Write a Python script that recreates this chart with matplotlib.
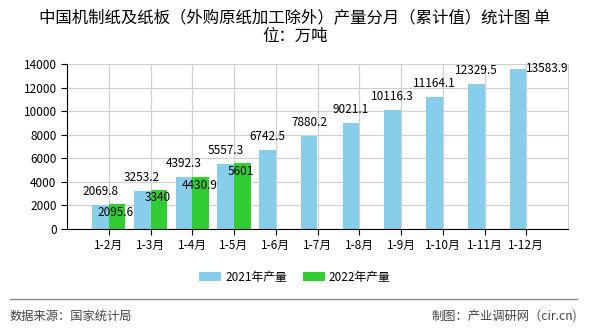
import matplotlib
matplotlib.use("Agg")
import matplotlib.pyplot as plt
from matplotlib.lines import Line2D

plt.rcParams['font.family'] = ['Noto Sans CJK SC', 'DejaVu Sans']

# dados
meses = ["1-2月", "1-3月", "1-4月", "1-5月", "1-6月", "1-7月", "1-8月",
         "1-9月", "1-10月", "1-11月", "1-12月"]
prod_2021 = [2069.8, 3253.2, 4392.3, 5557.3, 6742.5, 7880.2, 9021.1,
             10116.3, 11164.1, 12329.5, 13583.9]
prod_2022 = [2095.6, 3340, 4430.9, 5601]
rot_2021 = ["2069.8", "3253.2", "4392.3", "5557.3", "6742.5", "7880.2", "9021.1",
            "10116.3", "11164.1", "12329.5", "13583.9"]
rot_2022 = ["2095.6", "3340", "4430.9", "5601"]

titulo = "中国机制纸及纸板（外购原纸加工除外）产量分月（累计值）统计图 单\n位：万吨"

cor_2021 = "#87CEEB"
cor_2022 = "#32CD32"

fig = plt.figure(figsize=(5.9, 3.3), dpi=100)
ax = fig.add_axes([67 / 590, 1 - 229 / 330, (568 - 67) / 590, (229 - 64) / 330])

pos = list(range(1, len(meses) + 1))
larg = 0.4
x21 = [p - larg / 2 for p in pos]
x22 = [p + larg / 2 for p in pos[:len(prod_2022)]]

ax.bar(x21, prod_2021, width=larg, color=cor_2021, label="2021年产量", zorder=2)
ax.bar(x22, prod_2022, width=larg, color=cor_2022, label="2022年产量", zorder=2)

# rótulos
for i, (x, v) in enumerate(zip(x21, prod_2021)):
    if i == len(prod_2021) - 1:
        ax.annotate(rot_2021[i], (x + larg / 2, v), xytext=(0, 0), textcoords="offset points",
                    ha="left", va="center", fontsize=8.5, zorder=3)
    else:
        ax.annotate(rot_2021[i], (x, v), xytext=(0, 5), textcoords="offset points",
                    ha="center", va="bottom", fontsize=8.5, zorder=3)
for i, (x, v) in enumerate(zip(x22, prod_2022)):
    ax.annotate(rot_2022[i], (x, v), xytext=(-1, -6), textcoords="offset points",
                ha="center", va="center", fontsize=8.5, zorder=3)

ax.set_xlim(0, 12)
ax.set_ylim(0, 14000)
ax.set_yticks(range(0, 14001, 2000))
ax.set_xticks(pos)
ax.set_xticklabels(meses)
ax.tick_params(axis="both", labelsize=8.5, length=4, color="black")
ax.grid(True, color="#d0d0d0", linewidth=0.9, zorder=0)
ax.set_axisbelow(True)
ax.spines["top"].set_visible(False)
ax.spines["right"].set_color("#d0d0d0")
ax.spines["left"].set_color("black")
ax.spines["bottom"].set_color("black")

fig.text(0.5, 1 - 27 / 330, titulo, ha="center", va="center", fontsize=11.8,
         linespacing=1.1)

fig.legend(loc="center", bbox_to_anchor=(0.5, 1 - 277 / 330), ncol=2, frameon=False,
           fontsize=8.5, handlelength=1.85, handleheight=0.85, handletextpad=0.35,
           columnspacing=1.35)

fig.add_artist(Line2D([10 / 590, 577 / 590], [1 - 298.5 / 330, 1 - 298.5 / 330],
                      color="#888888", linewidth=1))
fig.text(10 / 590, 1 - 316.5 / 330, "数据来源：国家统计局", ha="left", va="center",
         fontsize=8.8, color="#444444")
fig.text(577 / 590, 1 - 316.5 / 330, "制图：产业调研网（cir.cn)", ha="right", va="center",
         fontsize=8.8, color="#444444")

fig.savefig("out.png", dpi=100)
plt.close()
